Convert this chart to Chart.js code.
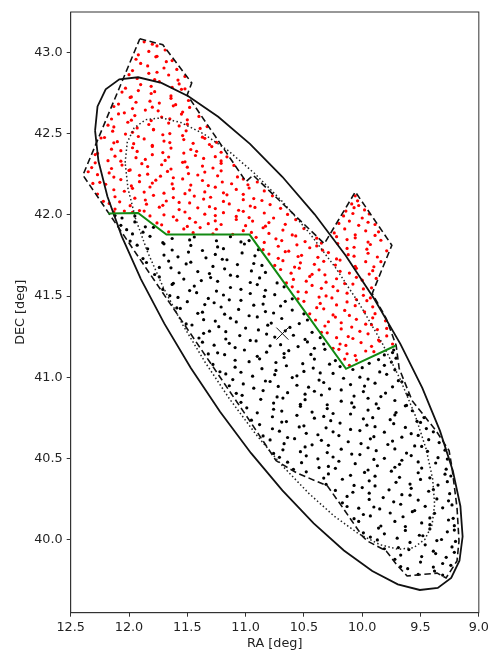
<!DOCTYPE html>
<html>
<head>
<meta charset="utf-8">
<script src="https://cdn.jsdelivr.net/npm/chart.js@4/dist/chart.umd.min.js"></script>
<style>html,body{margin:0;padding:0;background:#fff}</style>
</head>
<body>
<canvas id="chartM31" width="492" height="659"></canvas>
<script>
// 轴刻度
const raTicks = [12.5, 12.0, 11.5, 11.0, 10.5, 10.0, 9.5, 9.0];
const decTicks = [40.0, 40.5, 41.0, 41.5, 42.0, 42.5, 43.0];

// 中心位置 (RA, DEC)
const centerPos = [10.6847, 41.2690];

// 外椭圆 (实线)
const outerEllipse = [
  [12.291,42.519],[12.270,42.668],[12.200,42.774],[12.083,42.835],[11.922,42.848],[11.722,42.813],
  [11.491,42.731],[11.235,42.605],[10.963,42.438],[10.685,42.235],[10.408,42.004],[10.142,41.750],
  [9.895,41.481],[9.673,41.206],[9.484,40.933],[9.333,40.670],[9.223,40.425],[9.158,40.206],
  [9.139,40.019],[9.166,39.870],[9.237,39.764],[9.352,39.703],[9.506,39.690],[9.695,39.725],
  [9.914,39.807],[10.157,39.933],[10.416,40.100],[10.685,40.303],[10.955,40.534],[11.219,40.788],
  [11.470,41.057],[11.698,41.332],[11.898,41.605],[12.062,41.868],[12.185,42.113],[12.262,42.332],
  [12.291,42.519]
];

// 内椭圆 (点线)
const innerEllipse = [
  [12.033,42.322],[12.015,42.447],[11.956,42.536],[11.857,42.587],[11.722,42.598],[11.555,42.569],
  [11.361,42.500],[11.146,42.394],[10.919,42.253],[10.685,42.083],[10.452,41.888],[10.228,41.674],
  [10.020,41.447],[9.833,41.216],[9.673,40.986],[9.545,40.764],[9.452,40.558],[9.396,40.374],
  [9.379,40.217],[9.401,40.091],[9.462,40.002],[9.558,39.951],[9.689,39.940],[9.848,39.969],
  [10.034,40.038],[10.239,40.144],[10.458,40.285],[10.685,40.455],[10.913,40.650],[11.135,40.864],
  [11.346,41.091],[11.538,41.322],[11.705,41.552],[11.842,41.774],[11.945,41.980],[12.009,42.164],
  [12.033,42.322]
];

// 覆盖区域边界 (虚线)
const footprint = [
  [11.907,43.085],[11.710,43.048],[11.462,42.813],[11.501,42.739],[10.996,42.205],[10.936,42.245],
  [10.325,41.823],[10.059,42.142],[9.746,41.813],[9.914,41.517],[9.794,41.362],[9.709,41.196],
  [9.683,41.054],[9.572,40.856],[9.367,40.671],[9.255,40.548],[9.230,40.443],[9.187,40.196],
  [9.170,39.992],[9.187,39.869],[9.281,39.764],[9.358,39.794],[9.615,39.776],[9.709,39.850],
  [9.794,39.930],[9.957,39.992],[10.000,40.023],[10.196,40.227],[10.299,40.331],[10.564,40.412],
  [10.738,40.486],[10.966,40.733],[12.395,42.245],[11.907,43.085]
];

// 分界线 (绿色)
const splitLine = [
  [12.178,42.009],[11.922,42.012],[11.679,41.879],[10.966,41.879],[10.139,41.052],[9.711,41.196]
];

// 外侧天体 (红)
const redPts = [
  [11.87,43.066],[11.80,43.052],[11.76,43.041],
  [11.92,42.986],[11.83,43.007],[11.76,42.977],[11.69,43.016],
  [11.94,42.959],[11.90,42.933],[11.77,42.974],[11.68,42.944],[11.63,42.951],
  [11.97,42.889],[11.84,42.918],[11.76,42.879],[11.70,42.905],[11.59,42.896],
  [12.00,42.864],[11.93,42.841],[11.83,42.872],[11.78,42.834],[11.66,42.862],[11.58,42.831],[11.52,42.853],
  [12.03,42.781],[11.90,42.803],[11.81,42.792],[11.74,42.821],[11.63,42.786],[11.57,42.807],[11.52,42.777],
  [12.06,42.757],[11.98,42.727],[11.92,42.766],[11.81,42.748],[11.78,42.759],[11.64,42.733],[11.55,42.774],
  [12.09,42.683],[11.99,42.724],[11.94,42.694],[11.82,42.701],[11.74,42.689],[11.64,42.718],[11.60,42.679],[11.49,42.705],
  [12.13,42.668],[12.04,42.629],[11.97,42.655],[11.86,42.646],[11.80,42.664],[11.75,42.641],[11.62,42.672],[11.54,42.634],[11.48,42.662],
  [12.15,42.591],[12.09,42.622],[11.98,42.584],[11.95,42.612],[11.81,42.581],[11.72,42.603],[11.65,42.592],[11.55,42.621],[11.50,42.586],[11.40,42.607],
  [12.18,42.553],[12.13,42.542],[12.01,42.571],[11.93,42.536],[11.83,42.557],[11.79,42.527],[11.66,42.566],[11.57,42.548],[11.50,42.559],[11.39,42.533],[11.33,42.544],
  [12.21,42.477],[12.14,42.516],[12.03,42.498],[11.97,42.509],[11.92,42.483],[11.79,42.524],[11.71,42.494],[11.65,42.501],[11.54,42.489],[11.51,42.518],[11.37,42.479],
  [12.24,42.474],[12.13,42.444],[12.10,42.451],[11.96,42.439],[11.87,42.468],[11.80,42.429],[11.70,42.455],[11.65,42.446],[11.53,42.464],[11.45,42.441],[11.35,42.472],[11.31,42.434],[11.25,42.447],
  [12.27,42.379],[12.15,42.405],[12.07,42.396],[11.97,42.414],[11.93,42.391],[11.80,42.422],[11.71,42.384],[11.64,42.412],[11.53,42.381],[11.47,42.403],[11.42,42.392],[11.29,42.421],[11.21,42.386],
  [12.29,42.372],[12.18,42.334],[12.12,42.362],[12.07,42.331],[11.94,42.353],[11.86,42.342],[11.80,42.371],[11.69,42.336],[11.66,42.357],[11.52,42.327],[11.43,42.366],[11.36,42.348],[11.26,42.359],[11.21,42.333],[11.16,42.358],
  [12.32,42.292],[12.29,42.321],[12.15,42.286],[12.06,42.307],[11.99,42.277],[11.89,42.316],[11.84,42.298],[11.72,42.309],[11.64,42.283],[11.54,42.324],[11.50,42.294],[11.37,42.301],[11.28,42.289],[11.21,42.318],[11.10,42.305],
  [12.35,42.266],[12.27,42.248],[12.17,42.259],[12.13,42.233],[12.00,42.274],[11.91,42.244],[11.84,42.251],[11.73,42.239],[11.67,42.268],[11.62,42.229],[11.49,42.255],[11.41,42.246],[11.35,42.264],[11.24,42.241],[11.21,42.272],[11.07,42.234],
  [12.31,42.194],[12.25,42.201],[12.20,42.189],[12.07,42.218],[11.98,42.179],[11.91,42.205],[11.80,42.196],[11.77,42.214],[11.63,42.191],[11.54,42.222],[11.47,42.184],[11.37,42.212],[11.32,42.181],[11.20,42.203],[11.12,42.192],[11.02,42.221],[10.98,42.186],[10.90,42.203],
  [12.27,42.129],[12.13,42.155],[12.04,42.146],[11.97,42.164],[11.87,42.141],[11.82,42.172],[11.70,42.134],[11.62,42.162],[11.52,42.131],[11.48,42.153],[11.35,42.142],[11.26,42.171],[11.19,42.136],[11.08,42.157],[11.02,42.127],[10.97,42.166],[10.84,42.148],[10.06,42.118],
  [12.22,42.084],[12.12,42.112],[12.08,42.081],[11.95,42.103],[11.86,42.092],[11.79,42.121],[11.68,42.086],[11.62,42.107],[11.57,42.077],[11.44,42.116],[11.36,42.098],[11.30,42.109],[11.19,42.083],[11.16,42.124],[11.02,42.094],[10.93,42.101],[10.86,42.089],[10.77,42.118],[10.04,42.087],[10.09,42.068],
  [12.17,42.071],[12.12,42.036],[11.99,42.057],[11.91,42.027],[11.85,42.066],[11.74,42.048],[11.71,42.059],[11.57,42.033],[11.48,42.074],[11.41,42.044],[11.31,42.051],[11.26,42.039],[11.14,42.068],[11.06,42.029],[10.96,42.055],[10.92,42.046],[10.79,42.064],[10.70,42.041],[10.14,42.024],[10.07,42.045],[9.98,42.031],[10.03,42.058],
  [12.13,42.019],[12.04,42.024],[11.97,42.016],[11.87,42.024],[11.82,41.994],[11.70,42.001],[11.62,41.989],[11.52,42.018],[11.48,41.979],[11.35,42.005],[11.26,41.996],[11.19,42.014],[11.08,41.991],[11.02,42.022],[10.97,41.984],[10.84,42.012],[10.76,41.981],[10.64,42.003],[10.16,41.994],[10.08,42.009],[10.00,41.981],[9.94,42.006],
  [11.76,41.951],[11.72,41.939],[11.59,41.968],[11.50,41.929],[11.43,41.955],[11.32,41.946],[11.26,41.964],[11.21,41.941],[11.08,41.972],[11.00,41.934],[10.94,41.962],[10.83,41.931],[10.80,41.953],[10.66,41.942],[10.57,41.971],[10.20,41.948],[10.11,41.962],[10.03,41.936],[9.95,41.955],[9.89,41.941],
  [11.66,41.896],[11.53,41.914],[11.45,41.891],[11.39,41.922],[11.28,41.884],[11.25,41.912],[11.11,41.881],[11.02,41.903],[10.95,41.892],[10.85,41.921],[10.80,41.886],[10.68,41.907],[10.60,41.877],[10.50,41.916],[10.24,41.889],[10.15,41.914],[10.06,41.878],[9.97,41.902],[9.86,41.896],
  [10.91,41.862],[10.84,41.831],[10.74,41.853],[10.69,41.842],[10.57,41.871],[10.49,41.836],[10.39,41.857],[10.35,41.827],[10.22,41.866],[10.13,41.848],[10.06,41.859],[9.95,41.833],[9.89,41.874],[9.84,41.844],
  [10.85,41.786],[10.72,41.807],[10.63,41.777],[10.56,41.816],[10.45,41.798],[10.39,41.809],[10.34,41.783],[10.21,41.824],[10.13,41.794],[10.07,41.801],[9.96,41.789],[9.93,41.818],[9.79,41.779],
  [10.80,41.759],[10.72,41.733],[10.66,41.774],[10.55,41.744],[10.52,41.751],[10.38,41.739],[10.29,41.768],[10.22,41.729],[10.12,41.755],[10.07,41.746],[9.95,41.764],[9.87,41.741],
  [10.75,41.689],[10.68,41.718],[10.58,41.679],[10.53,41.705],[10.41,41.696],[10.33,41.714],[10.23,41.691],[10.19,41.722],[10.06,41.684],[9.97,41.712],[9.90,41.681],[9.84,41.712],
  [10.70,41.664],[10.61,41.641],[10.54,41.672],[10.43,41.634],[10.37,41.662],[10.32,41.631],[10.19,41.653],[10.11,41.642],[10.05,41.671],[9.94,41.636],[9.91,41.657],
  [10.65,41.581],[10.59,41.603],[10.48,41.592],[10.45,41.621],[10.31,41.586],[10.22,41.607],[10.15,41.577],[10.05,41.616],[10.00,41.598],[9.88,41.609],
  [10.60,41.557],[10.55,41.527],[10.43,41.566],[10.35,41.548],[10.25,41.559],[10.21,41.533],[10.08,41.574],[9.99,41.544],[9.92,41.551],
  [10.55,41.483],[10.48,41.524],[10.37,41.494],[10.31,41.501],[10.26,41.489],[10.13,41.518],[10.05,41.479],[9.99,41.505],[9.93,41.489],
  [10.50,41.468],[10.39,41.429],[10.36,41.455],[10.22,41.446],[10.13,41.464],[10.06,41.441],[9.96,41.472],[9.91,41.434],
  [10.45,41.391],[10.33,41.422],[10.25,41.384],[10.15,41.412],[10.11,41.381],[9.98,41.403],[9.89,41.392],
  [10.40,41.353],[10.29,41.342],[10.23,41.371],[10.18,41.336],[10.05,41.357],[9.97,41.327],[9.91,41.366],[9.80,41.348],
  [10.35,41.277],[10.32,41.316],[10.18,41.298],[10.09,41.309],[10.02,41.283],[9.92,41.324],[9.87,41.294],[9.79,41.301],
  [10.30,41.274],[10.22,41.244],[10.12,41.251],[10.08,41.239],[9.95,41.268],[9.86,41.229],[9.79,41.255],
  [10.25,41.179],[10.19,41.205],[10.14,41.196],[10.01,41.214],[9.92,41.191],[9.85,41.222],[9.74,41.205],
  [10.20,41.172],[10.13,41.145],[10.06,41.134],[9.97,41.162],[9.90,41.158],
  [10.15,41.112],[10.05,41.106],[10.11,41.074]
];

// 内侧天体 (黑)
const blackPts = [
  [12.12,41.996],[12.06,41.981],[11.95,41.993],
  [12.07,41.936],[11.95,41.957],[11.86,41.927],
  [12.02,41.909],[11.97,41.883],[11.88,41.894],[11.79,41.924],
  [11.99,41.839],[11.82,41.868],[11.71,41.829],[11.63,41.855],[11.48,41.846],[11.44,41.864],[11.25,41.841],[11.13,41.866],[11.04,41.834],[10.97,41.842],
  [11.93,41.814],[11.84,41.791],[11.70,41.822],[11.63,41.784],[11.47,41.812],[11.37,41.781],[11.24,41.803],[11.19,41.792],[11.01,41.821],[10.89,41.786],
  [11.88,41.731],[11.70,41.753],[11.58,41.742],[11.49,41.771],[11.34,41.736],[11.26,41.757],[11.20,41.727],[11.03,41.766],[10.92,41.748],
  [11.85,41.707],[11.74,41.677],[11.66,41.716],[11.51,41.698],[11.47,41.709],[11.28,41.683],[11.16,41.724],[11.07,41.694],[10.93,41.701],[10.86,41.689],
  [11.78,41.633],[11.64,41.674],[11.57,41.644],[11.41,41.651],[11.31,41.639],[11.18,41.668],[11.13,41.629],[10.95,41.655],[10.83,41.646],
  [11.74,41.618],[11.62,41.579],[11.53,41.605],[11.38,41.596],[11.30,41.614],[11.24,41.591],[11.07,41.622],[10.96,41.584],[10.88,41.612],[10.73,41.581],
  [11.71,41.541],[11.63,41.572],[11.48,41.534],[11.44,41.562],[11.25,41.531],[11.13,41.553],[11.04,41.542],[10.90,41.571],[10.83,41.536],[10.67,41.557],
  [11.65,41.503],[11.58,41.492],[11.42,41.521],[11.32,41.486],[11.19,41.507],[11.14,41.477],[10.96,41.516],[10.84,41.498],[10.75,41.509],[10.60,41.483],
  [11.59,41.427],[11.50,41.466],[11.35,41.448],[11.27,41.459],[11.21,41.433],[11.04,41.474],[10.93,41.444],[10.85,41.451],[10.70,41.439],[10.66,41.468],
  [11.56,41.424],[11.41,41.394],[11.37,41.401],[11.18,41.389],[11.06,41.418],[10.97,41.379],[10.83,41.405],[10.76,41.396],[10.60,41.414],[10.50,41.391],
  [11.51,41.329],[11.36,41.355],[11.26,41.346],[11.13,41.364],[11.08,41.341],[10.90,41.372],[10.78,41.334],[10.69,41.362],[10.54,41.331],[10.47,41.353],
  [11.46,41.322],[11.31,41.284],[11.23,41.312],[11.17,41.281],[11.00,41.303],[10.89,41.292],[10.81,41.321],[10.66,41.286],[10.62,41.307],[10.43,41.277],
  [11.40,41.242],[11.36,41.271],[11.17,41.236],[11.05,41.257],[10.96,41.227],[10.82,41.266],[10.75,41.248],[10.59,41.259],[10.49,41.233],[10.36,41.244],
  [11.37,41.216],[11.27,41.198],[11.14,41.209],[11.09,41.183],[10.91,41.224],[10.79,41.194],[10.70,41.201],[10.55,41.189],[10.47,41.218],[10.41,41.179],[10.33,41.205],[9.73,41.168],
  [11.32,41.144],[11.24,41.151],[11.18,41.139],[11.01,41.168],[10.90,41.129],[10.82,41.155],[10.67,41.146],[10.63,41.164],[10.44,41.141],[10.32,41.172],[9.81,41.138],[9.74,41.152],
  [11.28,41.079],[11.09,41.105],[10.97,41.096],[10.88,41.114],[10.74,41.091],[10.67,41.122],[10.51,41.084],[10.41,41.112],[10.28,41.081],[10.23,41.103],[9.94,41.086],[9.86,41.109],[9.75,41.094],[9.71,41.118],
  [11.22,41.034],[11.09,41.062],[11.04,41.031],[10.86,41.053],[10.74,41.042],[10.65,41.071],[10.50,41.036],[10.42,41.057],[10.36,41.027],[10.19,41.066],[10.08,41.048],[10.00,41.059],[9.85,41.033],[9.81,41.074],[9.72,41.046],
  [11.17,41.021],[11.11,40.986],[10.94,41.007],[10.83,40.977],[10.75,41.016],[10.60,40.998],[10.56,41.009],[10.37,40.983],[10.25,41.024],[10.16,40.994],[10.02,41.001],[9.95,40.989],[9.79,41.018],[9.69,40.979],
  [11.14,40.948],[11.02,40.959],[10.93,40.933],[10.79,40.974],[10.72,40.944],[10.56,40.951],[10.46,40.939],[10.33,40.968],[10.28,40.929],[10.10,40.955],[9.98,40.946],[9.89,40.964],[9.74,40.941],[9.66,40.972],
  [11.08,40.901],[11.03,40.889],[10.85,40.918],[10.73,40.879],[10.64,40.905],[10.49,40.896],[10.41,40.914],[10.35,40.891],[10.18,40.922],[10.07,40.884],[9.99,40.912],[9.84,40.881],[9.80,40.903],[9.61,40.892],
  [11.04,40.846],[10.87,40.864],[10.76,40.841],[10.68,40.872],[10.53,40.834],[10.49,40.862],[10.30,40.831],[10.18,40.853],[10.09,40.842],[9.95,40.871],[9.88,40.836],[9.72,40.857],[9.62,40.827],
  [10.99,40.812],[10.90,40.781],[10.76,40.803],[10.69,40.792],[10.53,40.821],[10.43,40.786],[10.30,40.807],[10.25,40.777],[10.07,40.816],[9.95,40.798],[9.86,40.809],[9.71,40.783],[9.63,40.824],[9.57,40.794],
  [10.95,40.736],[10.77,40.757],[10.65,40.727],[10.56,40.766],[10.41,40.748],[10.33,40.759],[10.27,40.733],[10.10,40.774],[9.99,40.744],[9.91,40.751],[9.76,40.739],[9.72,40.768],[9.53,40.729],[9.47,40.752],
  [10.88,40.709],[10.77,40.683],[10.69,40.724],[10.54,40.694],[10.50,40.701],[10.31,40.689],[10.19,40.718],[10.10,40.679],[9.96,40.705],[9.89,40.696],[9.73,40.714],[9.63,40.691],[9.50,40.722],[9.45,40.684],
  [10.85,40.639],[10.71,40.668],[10.64,40.629],[10.48,40.655],[10.38,40.646],[10.25,40.664],[10.20,40.641],[10.02,40.672],[9.90,40.634],[9.81,40.662],[9.66,40.631],[9.58,40.653],[9.52,40.642],[9.39,40.664],
  [10.79,40.614],[10.67,40.591],[10.58,40.622],[10.43,40.584],[10.35,40.612],[10.29,40.581],[10.12,40.603],[10.01,40.592],[9.93,40.621],[9.78,40.586],[9.74,40.607],[9.55,40.577],[9.43,40.616],[9.34,40.598],
  [10.76,40.531],[10.68,40.553],[10.53,40.542],[10.49,40.571],[10.30,40.536],[10.18,40.557],[10.09,40.527],[9.95,40.566],[9.88,40.548],[9.72,40.559],[9.62,40.533],[9.49,40.574],[9.44,40.544],[9.29,40.551],
  [10.71,40.507],[10.64,40.477],[10.48,40.516],[10.38,40.498],[10.25,40.509],[10.20,40.483],[10.02,40.524],[9.90,40.494],[9.81,40.501],[9.66,40.489],[9.58,40.518],[9.52,40.479],[9.35,40.505],[9.27,40.496],
  [10.59,40.433],[10.52,40.474],[10.37,40.444],[10.29,40.451],[10.23,40.439],[10.06,40.468],[9.95,40.429],[9.87,40.455],[9.72,40.446],[9.68,40.464],[9.49,40.441],[9.37,40.472],[9.28,40.434],
  [10.48,40.418],[10.33,40.379],[10.29,40.405],[10.10,40.396],[9.98,40.414],[9.89,40.391],[9.75,40.422],[9.68,40.384],[9.52,40.412],[9.42,40.381],[9.29,40.403],[9.24,40.392],
  [10.31,40.341],[10.17,40.372],[10.07,40.334],[9.94,40.362],[9.89,40.331],[9.71,40.353],[9.59,40.342],[9.50,40.371],[9.35,40.336],[9.27,40.357],
  [10.23,40.303],[10.08,40.292],[10.00,40.321],[9.94,40.286],[9.77,40.307],[9.66,40.277],[9.58,40.316],[9.43,40.298],[9.39,40.309],[9.25,40.283],
  [10.17,40.227],[10.13,40.266],[9.94,40.248],[9.82,40.259],[9.73,40.233],[9.59,40.274],[9.52,40.244],[9.36,40.251],[9.26,40.239],
  [10.13,40.204],[10.03,40.194],[9.90,40.201],[9.85,40.189],[9.67,40.218],[9.55,40.179],[9.46,40.205],[9.31,40.196],[9.23,40.214],
  [10.07,40.129],[9.99,40.155],[9.93,40.146],[9.76,40.164],[9.65,40.141],[9.57,40.172],[9.42,40.134],[9.38,40.162],[9.22,40.131],
  [10.03,40.112],[9.84,40.084],[9.72,40.112],[9.63,40.081],[9.49,40.103],[9.42,40.092],[9.26,40.121],[9.21,40.086],
  [9.99,40.042],[9.86,40.071],[9.81,40.036],[9.63,40.057],[9.51,40.027],[9.42,40.066],[9.27,40.048],[9.21,40.059],
  [9.93,40.016],[9.87,39.998],[9.70,40.009],[9.59,39.983],[9.48,40.024],[9.36,39.994],[9.32,40.001],[9.20,39.989],
  [9.81,39.944],[9.69,39.951],[9.60,39.939],[9.46,39.968],[9.39,39.929],[9.23,39.955],
  [9.72,39.879],[9.67,39.905],[9.49,39.896],[9.37,39.914],[9.28,39.891],[9.21,39.922],
  [9.67,39.834],[9.50,39.862],[9.39,39.831],[9.31,39.853],[9.24,39.842],
  [9.61,39.821],[9.52,39.786],[9.38,39.807],[9.31,39.782]
];

const toXY = pts => pts.map(p => ({ x: p[0], y: p[1] }));

function lineSet(pts, color, width, dash) {
    return {
        data: toXY(pts), showLine: true, borderColor: color, borderWidth: width,
        borderDash: dash, pointRadius: 0, fill: false, tension: 0
    };
}

const tickFont = { family: 'DejaVu Sans', size: 12.8 };

// 外框
const framePlugin = {
    id: 'frame',
    afterDraw(chart) {
        const { ctx, chartArea: a } = chart;
        ctx.save();
        ctx.strokeStyle = '#333';
        ctx.lineWidth = 1;
        ctx.strokeRect(a.left, a.top, a.right - a.left, a.bottom - a.top);
        ctx.restore();
    }
};

new Chart(document.getElementById('chartM31'), {
    type: 'scatter',
    data: {
        datasets: [
            { data: toXY([centerPos]), pointStyle: 'crossRot', pointRadius: 8.5, borderColor: '#111', borderWidth: 1, backgroundColor: 'transparent' },
            lineSet(splitLine, '#138a13', 2, []),
            lineSet(footprint, '#111', 1.6, [6.5, 3.5]),
            lineSet(outerEllipse, '#111', 1.8, []),
            lineSet(innerEllipse, '#222', 1.5, [1.5, 2.4]),
            { data: toXY(redPts), pointRadius: 1.6, borderWidth: 0, backgroundColor: '#ff0000' },
            { data: toXY(blackPts), pointRadius: 1.6, borderWidth: 0, backgroundColor: '#000' }
        ]
    },
    options: {
        responsive: false,
        devicePixelRatio: 1,
        animation: false,
        layout: { padding: { top: 12, right: 12, left: 0, bottom: 0 } },
        plugins: { legend: { display: false }, tooltip: { enabled: false } },
        scales: {
            x: {
                type: 'linear', min: 9.0, max: 12.5, reverse: true,
                afterBuildTicks: s => { s.ticks = raTicks.map(v => ({ value: v })); },
                afterFit: s => { s.height = 46.3; },
                ticks: { callback: v => v.toFixed(1), color: '#222', font: tickFont, padding: 3, maxRotation: 0, autoSkip: false },
                grid: { display: true, drawOnChartArea: false, drawTicks: true, tickLength: 4, color: '#333' },
                border: { display: true, color: '#333' },
                title: { display: true, text: 'RA [deg]', color: '#222', font: tickFont, padding: { top: 0, bottom: 8 } }
            },
            y: {
                type: 'linear', min: 39.55, max: 43.25,
                afterBuildTicks: s => { s.ticks = decTicks.map(v => ({ value: v })); },
                afterFit: s => { s.width = 70.7; },
                ticks: { callback: v => v.toFixed(1), color: '#222', font: tickFont, padding: 4, autoSkip: false },
                grid: { display: true, drawOnChartArea: false, drawTicks: true, tickLength: 4, color: '#333' },
                border: { display: true, color: '#333' },
                title: { display: true, text: 'DEC [deg]', color: '#222', font: tickFont, padding: { top: 12.5, bottom: 0 } }
            }
        }
    },
    plugins: [framePlugin]
});
</script>
</body>
</html>
